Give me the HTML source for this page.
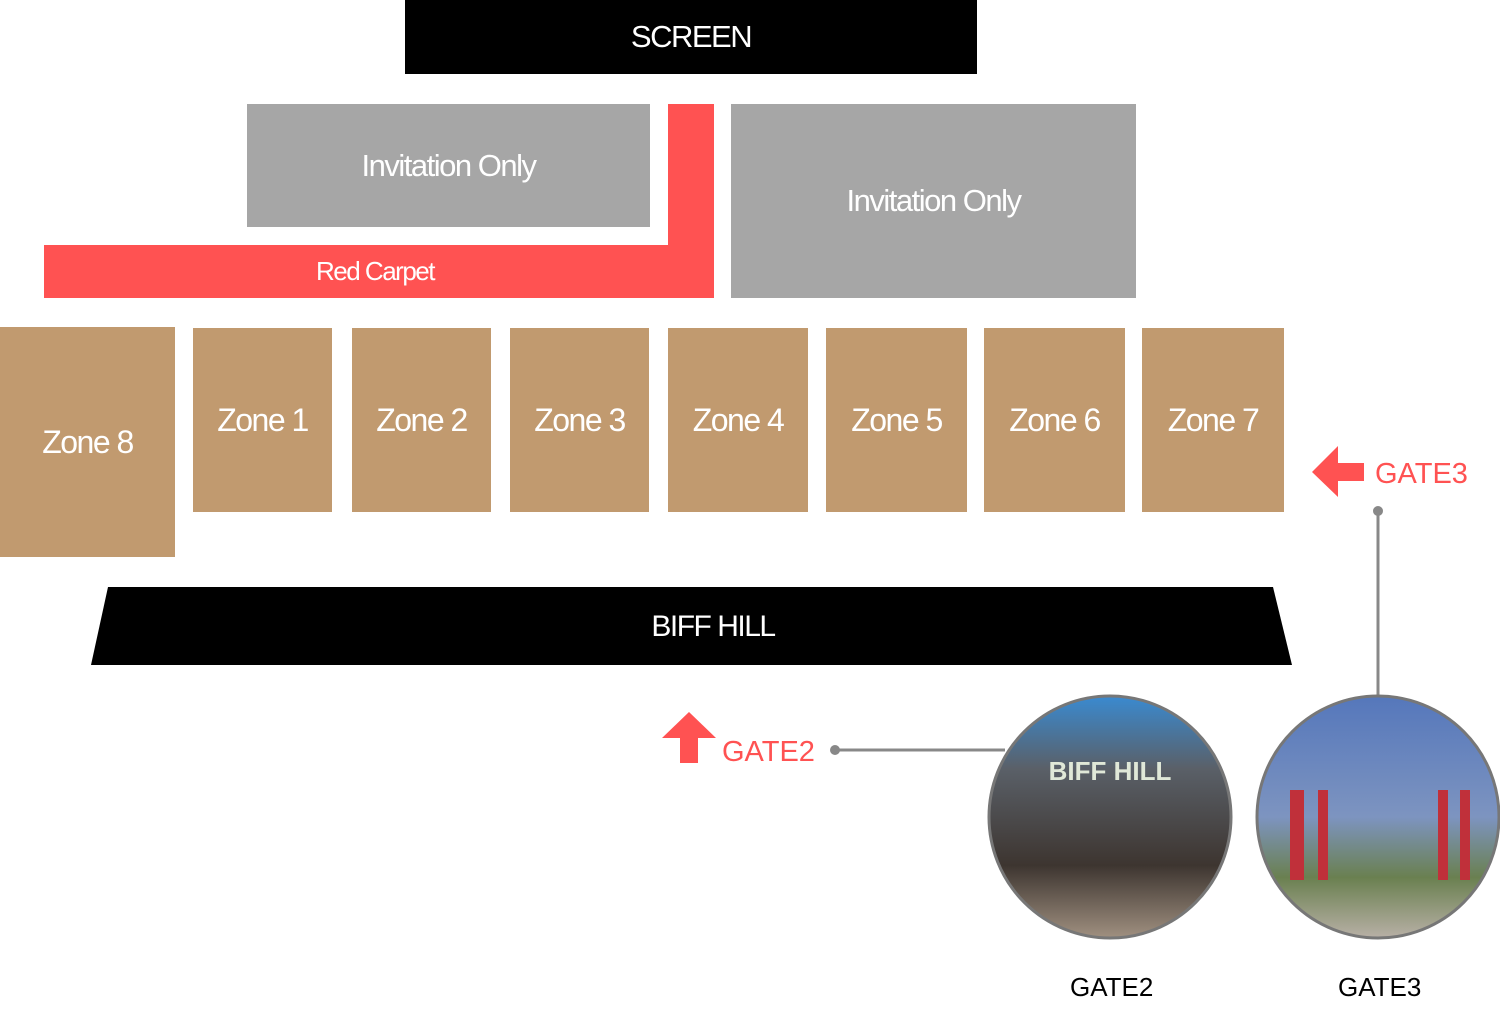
<!DOCTYPE html>
<html><head><style>
body{margin:0;width:1500px;height:1023px;background:#fff;position:relative;overflow:hidden;font-family:"Liberation Sans",sans-serif}
.b{position:absolute;display:flex;align-items:center;justify-content:center;color:#fff;letter-spacing:-1.5px}
.z{background:#c19a6f;font-size:32px;top:328px;height:184px}
.g{background:#a6a6a6;font-size:31px}
.t{position:absolute;font-size:28px}
</style></head><body>
<div class="b" style="left:405px;top:0;width:572px;height:74px;background:#000;font-size:31px">SCREEN</div>
<div class="b g" style="left:247px;top:104px;width:403px;height:123px">Invitation Only</div>
<div class="b g" style="left:731px;top:104px;width:405px;height:194px">Invitation Only</div>
<div class="b" style="left:668px;top:104px;width:46px;height:194px;background:#ff5252"></div>
<div class="b" style="left:44px;top:245px;width:662px;height:53px;background:#ff5252;font-size:26px">Red Carpet</div>
<div class="b z" style="left:0;top:327px;width:175px;height:230px">Zone 8</div>
<div class="b z" style="left:193px;width:139px">Zone 1</div>
<div class="b z" style="left:352px;width:139px">Zone 2</div>
<div class="b z" style="left:510px;width:139px">Zone 3</div>
<div class="b z" style="left:668px;width:140px">Zone 4</div>
<div class="b z" style="left:826px;width:141px">Zone 5</div>
<div class="b z" style="left:984px;width:141px">Zone 6</div>
<div class="b z" style="left:1142px;width:142px">Zone 7</div>
<svg width="1500" height="1023" style="position:absolute;left:0;top:0">
<rect x="706" y="245" width="8" height="53" fill="#ff5252"/>
<polygon points="108,587 1273,587 1292,665 91,665" fill="#000"/>
<text x="713" y="636" fill="#fff" font-size="30" text-anchor="middle" letter-spacing="-1.5" font-family="Liberation Sans">BIFF HILL</text>
<polygon points="1312,472 1338,446 1338,463 1364,463 1364,481 1338,481 1338,497" fill="#ff5252"/>
<text x="1375" y="483" fill="#ff5252" font-size="29" font-family="Liberation Sans">GATE3</text>
<polygon points="689,712 716,738 698,738 698,763 680,763 680,738 662,738" fill="#ff5252"/>
<text x="722" y="761" fill="#ff5252" font-size="29" font-family="Liberation Sans">GATE2</text>
<line x1="1378" y1="511" x2="1378" y2="697" stroke="#888" stroke-width="3"/><circle cx="1378" cy="511" r="5" fill="#888"/>
<line x1="835" y1="750" x2="1005" y2="750" stroke="#888" stroke-width="3"/><circle cx="835" cy="750" r="5" fill="#888"/>
<defs>
<linearGradient id="a" x1="0" y1="0" x2="0" y2="1"><stop offset="0" stop-color="#3a8ad0"/><stop offset=".3" stop-color="#5a6068"/><stop offset=".7" stop-color="#3d3530"/><stop offset="1" stop-color="#a09080"/></linearGradient>
<linearGradient id="c" x1="0" y1="0" x2="0" y2="1"><stop offset="0" stop-color="#5577bb"/><stop offset=".5" stop-color="#7d94c0"/><stop offset=".75" stop-color="#6a8050"/><stop offset="1" stop-color="#b8b0a6"/></linearGradient>
</defs>
<circle cx="1110" cy="817" r="121" fill="url(#a)" stroke="#777" stroke-width="3"/>
<text x="1110" y="780" fill="#e0e8d8" font-size="26" font-weight="bold" text-anchor="middle" font-family="Liberation Sans">BIFF HILL</text>
<circle cx="1378" cy="817" r="121" fill="url(#c)" stroke="#777" stroke-width="3"/>
<rect x="1290" y="790" width="14" height="90" fill="#c0303a"/><rect x="1318" y="790" width="10" height="90" fill="#c0303a"/>
<rect x="1438" y="790" width="10" height="90" fill="#c0303a"/><rect x="1460" y="790" width="10" height="90" fill="#c0303a"/>
</svg>
<div class="t" style="left:1070px;top:972px;font-size:26px">GATE2</div>
<div class="t" style="left:1338px;top:972px;font-size:26px">GATE3</div>
</body></html>
